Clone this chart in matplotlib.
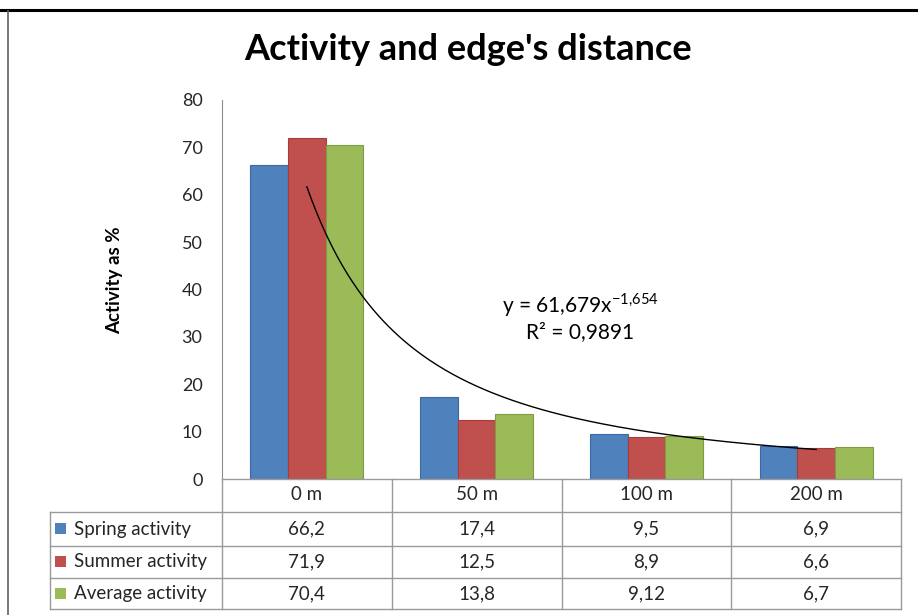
import matplotlib.pyplot as plt
import matplotlib.transforms as mtransforms
from matplotlib.lines import Line2D
from matplotlib.patches import Rectangle
import numpy as np

plt.rcParams['font.family'] = ['Lato', 'DejaVu Sans']
plt.rcParams['mathtext.fontset'] = 'custom'
plt.rcParams['mathtext.rm'] = 'Lato'

categories = ['0 m', '50 m', '100 m', '200 m']
series_names = ['Spring activity', 'Summer activity', 'Average activity']
spring = [66.2, 17.4, 9.5, 6.9]
summer = [71.9, 12.5, 8.9, 6.6]
average = [70.4, 13.8, 9.12, 6.7]
table_text = [['66,2', '17,4', '9,5', '6,9'],
              ['71,9', '12,5', '8,9', '6,6'],
              ['70,4', '13,8', '9,12', '6,7']]
colors = ['#4F81BD', '#C0504D', '#9BBB59']
edges = ['#3A6AA6', '#A53D3A', '#7E9C45']

# power trendline shown on chart
coef_a = 61.679
coef_b = -1.654

W, H = 918, 615
fig = plt.figure(figsize=(W / 100, H / 100), dpi=100)

def fx(px):
    return px / W

def fy(py):
    return 1 - py / H

ax_left, ax_right, ax_top, ax_bottom = 222, 901, 100, 479
ax = fig.add_axes([fx(ax_left), fy(ax_bottom), fx(ax_right - ax_left), (ax_bottom - ax_top) / H])

x = np.arange(len(categories))
bw = 1 / 4.5
for i, vals in enumerate([spring, summer, average]):
    ax.bar(x + (i - 1) * bw, vals, width=bw, color=colors[i], edgecolor=edges[i],
           linewidth=0.8, zorder=2)

xs = np.linspace(1, 4, 200)
ax.plot(xs - 1, coef_a * xs ** coef_b, color='black', linewidth=1.0, zorder=3)

ax.set_xlim(-0.5, len(categories) - 0.5)
ax.set_ylim(0, 80)
ax.set_yticks(np.arange(0, 81, 10))
ax.set_xticks([])
for s in ['top', 'right', 'bottom']:
    ax.spines[s].set_visible(False)
ax.spines['left'].set_color('#8C8C8C')
ax.tick_params(axis='y', length=0, pad=14, labelsize=13, labelcolor='#262626')

ax.text(1.61, 36.7, 'y = 61,679x$^{\\mathregular{-1{,}654}}$', ha='center', va='center', fontsize=15)
ax.text(1.61, 31.0, 'R² = 0,9891', ha='center', va='center', fontsize=15)

fig.text(fx(468), fy(50), "Activity and edge's distance", ha='center', va='center',
         fontsize=26, fontweight='bold')
fig.text(fx(115), fy(280), 'Activity as %', ha='center', va='center', rotation=90,
         fontsize=13.5, fontweight='bold')

# data table below the axis
blend = mtransforms.blended_transform_factory(ax.transData, fig.transFigure)
gc = '#9A9A9A'
row_lines = [479, 512, 546, 578, 609]
table_left = 50
fig.add_artist(Line2D([fx(ax_left), fx(ax_right)], [fy(479), fy(479)], color=gc, lw=1))
for yy in row_lines[1:]:
    fig.add_artist(Line2D([fx(table_left), fx(ax_right)], [fy(yy), fy(yy)], color=gc, lw=1))
fig.add_artist(Line2D([fx(table_left), fx(table_left)], [fy(512), fy(609)], color=gc, lw=1))
for b in np.arange(len(categories) + 1) - 0.5:
    fig.add_artist(Line2D([b, b], [fy(479), fy(609)], color=gc, lw=1, transform=blend))

for j, c in enumerate(categories):
    fig.text(j, fy(495), c, transform=blend, ha='center', va='center', fontsize=13.5,
             color='#262626')
for i, row in enumerate(table_text):
    yc = (row_lines[i + 1] + row_lines[i + 2]) / 2
    for j, v in enumerate(row):
        fig.text(j, fy(yc), v, transform=blend, ha='center', va='center', fontsize=13.5,
                 color='#262626')
    fig.add_artist(Rectangle((fx(55), fy(yc + 5)), fx(11), 11 / H, facecolor=colors[i],
                             edgecolor='none', transform=fig.transFigure))
    fig.text(fx(74), fy(yc), series_names[i], ha='left', va='center', fontsize=13.5,
             color='#262626')

# page borders
fig.add_artist(Line2D([0, 1], [fy(10), fy(10)], color='black', lw=2.2))
fig.add_artist(Line2D([fx(8), fx(8)], [fy(11), 0], color='#606060', lw=1.2))

fig.savefig('out.png', dpi=100)
